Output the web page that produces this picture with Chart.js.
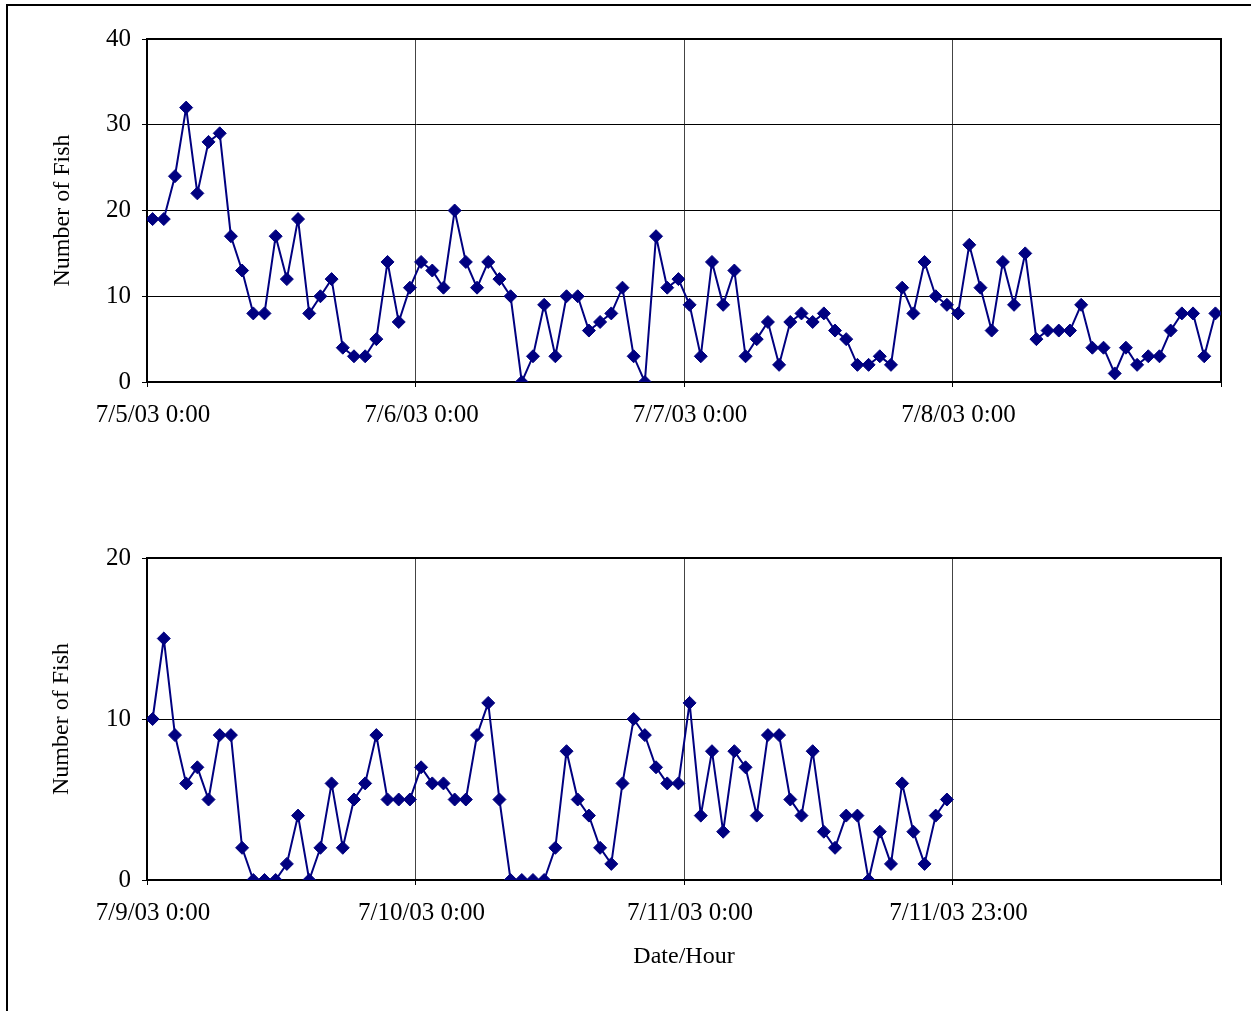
<!DOCTYPE html>
<html><head><meta charset="utf-8">
<script src="https://cdn.jsdelivr.net/npm/chart.js@4.4.1/dist/chart.umd.min.js"></script>
<style>
html,body{margin:0;padding:0;background:#fff;width:1251px;height:1011px;overflow:hidden;position:relative}
#frame{position:absolute;left:6px;top:4px;width:1400px;height:1200px;border-left:2px solid #000;border-top:2px solid #000;box-sizing:border-box}
canvas{position:absolute;left:0}
#c1{top:0}
#c2{top:460px}
</style></head><body>
<div id="frame"></div>
<canvas id="c1" width="1251" height="460"></canvas>
<canvas id="c2" width="1251" height="551"></canvas>
<script>
// Hourly fish counts, 7/5/03 0:00 - 7/9/03 0:00 (top panel)
const topValues = [19,19,24,32,22,28,29,17,13,8,8,17,12,19,8,10,12,4,3,3,5,14,7,11,
  14,13,11,20,14,11,14,12,10,0,3,9,3,10,10,6,7,8,11,3,0,17,11,12,
  9,3,14,9,13,3,5,7,2,7,8,7,8,6,5,2,2,3,2,11,8,14,10,9,
  8,16,11,6,14,9,15,5,6,6,6,9,4,4,1,4,2,3,3,6,8,8,3,8];
// Hourly fish counts, 7/9/03 0:00 onward (bottom panel)
const bottomValues = [10,15,9,6,7,5,9,9,2,0,0,0,1,4,0,2,6,2,5,6,9,5,5,5,
  7,6,6,5,5,9,11,5,0,0,0,0,2,8,5,4,2,1,6,10,9,7,6,6,
  11,4,8,3,8,7,4,9,9,5,4,8,3,2,4,4,0,3,1,6,3,1,4,5];
const topTickLabels = ['7/5/03 0:00','7/6/03 0:00','7/7/03 0:00','7/8/03 0:00',''];
const bottomTickLabels = ['7/9/03 0:00','7/10/03 0:00','7/11/03 0:00','7/11/03 23:00',''];
const yAxisTitle = 'Number of Fish';
const xAxisTitle = 'Date/Hour';
const hoursPerPanel = 96;
const hoursPerDay = 24;

const FONT = "'Liberation Serif','Times New Roman',serif";
const NAVY = '#000080';

const frameBorder = {
  id: 'frameBorder',
  beforeDatasetsDraw(chart) {
    const {ctx, chartArea: a} = chart;
    ctx.save();
    ctx.strokeStyle = '#000';
    ctx.lineWidth = 2;
    ctx.beginPath();
    ctx.moveTo(a.left, a.top);
    ctx.lineTo(a.right, a.top);
    ctx.lineTo(a.right, a.bottom);
    ctx.stroke();
    ctx.restore();
  }
};

function makeChart(id, values, tickLabels, yMax, cfg) {
  const pts = values.map((v, i) => ({x: i + 0.5, y: v}));
  return new Chart(document.getElementById(id), {
    type: 'line',
    data: {datasets: [{
      data: pts,
      borderColor: NAVY, backgroundColor: NAVY, borderWidth: 2,
      pointStyle: 'rectRot', pointRadius: 6.5, pointBorderWidth: 1,
      pointBackgroundColor: NAVY, pointBorderColor: NAVY, tension: 0
    }]},
    options: {
      responsive: false, animation: false, devicePixelRatio: 1,
      layout: {padding: {left: 0, top: cfg.top, right: 30, bottom: cfg.bottom}},
      plugins: {legend: {display: false}, tooltip: {enabled: false}},
      scales: {
        x: {
          type: 'linear', min: 0, max: hoursPerPanel,
          afterFit: s => { s.height = cfg.xh; },
          afterBuildTicks: s => { s.ticks = tickLabels.map((_, i) => ({value: i * hoursPerDay})); },
          ticks: {
            autoSkip: false, maxRotation: 0, padding: 13, labelOffset: 6,
            color: '#000', font: {family: FONT, size: 25},
            callback: (v, i) => tickLabels[i]
          },
          grid: {color: '#444', lineWidth: 1, tickLength: 5, tickColor: '#000', drawTicks: true},
          border: {color: '#000', width: 2},
          title: cfg.xTitle ? {display: true, text: xAxisTitle, color: '#000',
            font: {family: FONT, size: 24}, padding: {top: 0, bottom: cfg.xTitlePad}} : {display: false}
        },
        y: {
          min: 0, max: yMax,
          afterFit: s => { s.width = 147; },
          ticks: {stepSize: 10, padding: 11, color: '#000', font: {family: FONT, size: 25}},
          grid: {color: '#000', lineWidth: 1, tickLength: 5, tickColor: '#000'},
          border: {color: '#000', width: 2},
          title: {display: true, text: yAxisTitle, color: '#000',
            font: {family: FONT, size: 24}, padding: {top: cfg.yTitlePad, bottom: 0}}
        }
      }
    },
    plugins: [frameBorder]
  });
}

makeChart('c1', topValues, topTickLabels, 40,
  {top: 39, bottom: 18, xh: 60, yTitlePad: 48, xTitle: false});
makeChart('c2', bottomValues, bottomTickLabels, 20,
  {top: 98, bottom: 31, xh: 100, yTitlePad: 47, xTitle: true, xTitlePad: 8.6});
</script>
</body></html>
